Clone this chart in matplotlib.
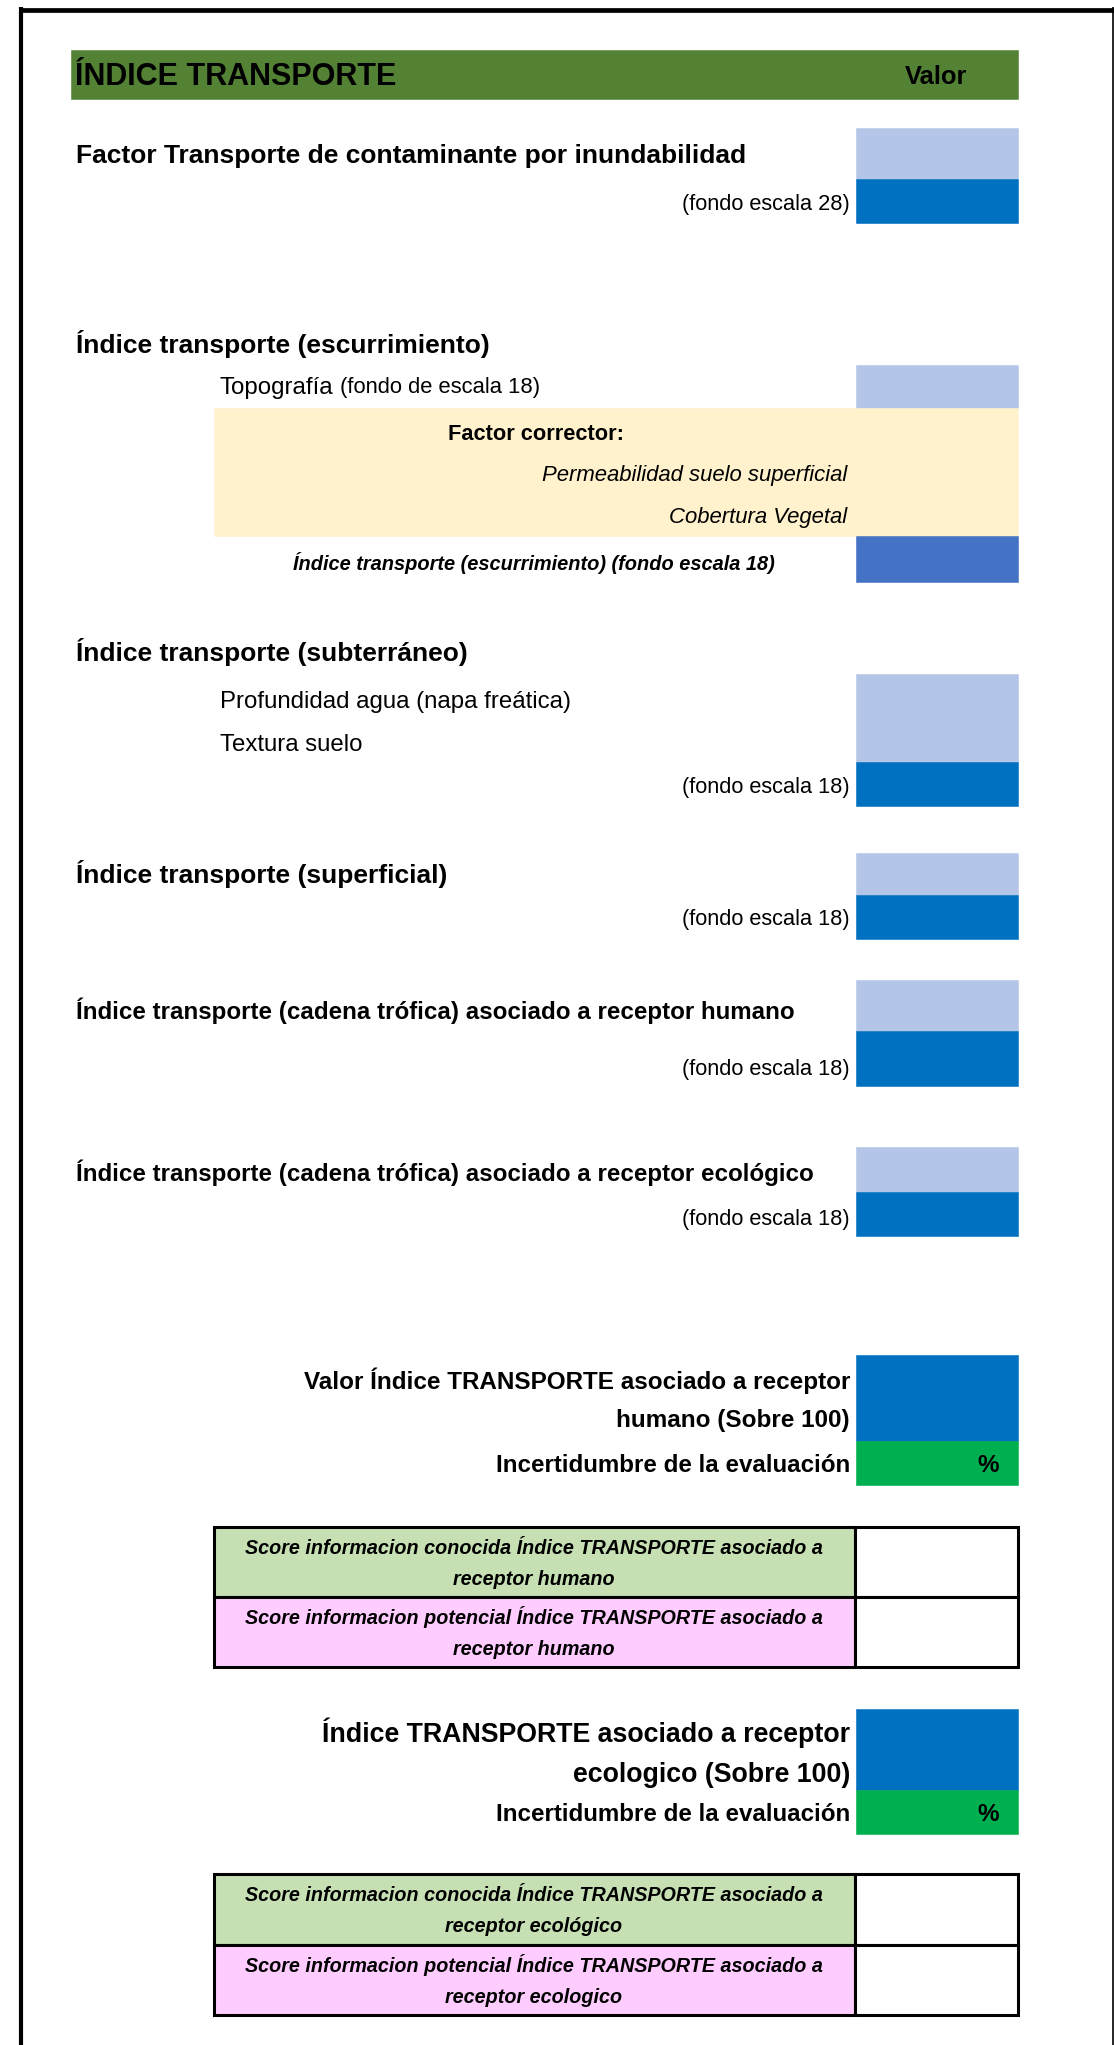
import matplotlib
matplotlib.use("Agg")
import matplotlib.pyplot as plt
from matplotlib.patches import Rectangle
from matplotlib import font_manager

# textos de la hoja
titulo = "ÍNDICE TRANSPORTE"
col_valor = "Valor"
secciones = [
    "Factor Transporte de contaminante por inundabilidad",
    "Índice transporte (escurrimiento)",
    "Índice transporte (subterráneo)",
    "Índice transporte (superficial)",
    "Índice transporte (cadena trófica) asociado a receptor humano",
    "Índice transporte (cadena trófica) asociado a receptor ecológico",
]
fondo_28 = "(fondo escala 28)"
fondo_18 = "(fondo escala 18)"
topografia = ["Topografía", "(fondo de escala 18)"]
factor_corrector = "Factor corrector:"
correctores = ["Permeabilidad suelo superficial", "Cobertura Vegetal"]
escurrimiento_total = "Índice transporte (escurrimiento) (fondo escala 18)"
subterraneo_items = ["Profundidad agua (napa freática)", "Textura suelo"]
resumen_humano = ["Valor Índice TRANSPORTE asociado a receptor", "humano (Sobre 100)"]
resumen_eco = ["Índice TRANSPORTE asociado a receptor", "ecologico (Sobre 100)"]
incertidumbre = "Incertidumbre de la evaluación"
pct = "%"
score_humano = [
    ["Score informacion conocida Índice TRANSPORTE asociado a", "receptor humano"],
    ["Score informacion potencial Índice TRANSPORTE asociado a", "receptor humano"],
]
score_eco = [
    ["Score informacion conocida Índice TRANSPORTE asociado a", "receptor ecológico"],
    ["Score informacion potencial Índice TRANSPORTE asociado a", "receptor ecologico"],
]

VERDE_OSC = "#548235"
AZUL_CLARO = "#B4C6E7"
AZUL = "#0070C0"
AZUL_MED = "#4472C4"
AMARILLO = "#FFF2CC"
VERDE = "#00B050"
VERDE_CLARO = "#C6E0B4"
ROSA = "#FFCCFF"

nombres = {f.name for f in font_manager.fontManager.ttflist}
if "Liberation Sans Narrow" in nombres:
    FUENTE, ESC = "Liberation Sans Narrow", 1.18
else:
    FUENTE, ESC = "Liberation Sans", 1.0

W, H = 1114, 2045
fig = plt.figure(figsize=(W / 100, H / 100), dpi=100)
ax = fig.add_axes([0, 0, 1, 1])
ax.set_xlim(0, W)
ax.set_ylim(H, 0)
ax.axis("off")


def txt(x, yc, s, size, ha="left", weight="normal", style="normal"):
    # yc = centro visual de las mayusculas
    size = size * ESC
    em = size * 100 / 72
    return ax.text(x, yc + 0.36 * em / ESC ** 0.3, s, fontsize=size, ha=ha, va="baseline",
                   fontweight=weight, fontstyle=style, family=FUENTE, color="black")


def caja(x0, y0, x1, y1, color, borde=None, lw=0):
    ax.add_patch(Rectangle((x0, y0), x1 - x0, y1 - y0, facecolor=color,
                           edgecolor=borde if borde else color, linewidth=lw if borde else 0.4))


# marco
ax.plot([19, W], [9.5, 9.5], color="black", lw=3.4, solid_capstyle="butt")
ax.plot([21, 21], [7, H], color="black", lw=3.0, solid_capstyle="butt")
ax.plot([1112.5, 1112.5], [7, H], color="black", lw=1.2, solid_capstyle="butt")

VX0, VX1 = 856, 1018   # columna de valores
LX = 76                # margen de etiquetas
RX = 850               # borde derecho de etiquetas

# encabezado
caja(71, 50, 1018, 99, VERDE_OSC)
txt(75, 74, titulo, 22, weight="bold")
txt(905, 75, col_valor, 18.4, weight="bold")

# 1 inundabilidad
caja(VX0, 128, VX1, 179, AZUL_CLARO)
caja(VX0, 179, VX1, 223, AZUL)
txt(LX, 153, secciones[0], 19, weight="bold")
txt(RX, 202, fondo_28, 15.7, ha="right")

# 2 escurrimiento
txt(LX, 343, secciones[1], 19, weight="bold")
caja(VX0, 365, VX1, 408, AZUL_CLARO)
t = txt(220, 385, topografia[0], 17.3)
fig.canvas.draw()
bb = t.get_window_extent().transformed(ax.transData.inverted())
txt(bb.x1 + 6, 385, topografia[1], 15.8)
caja(214, 408, 1018, 536, AMARILLO)
txt(536, 432, factor_corrector, 15.7, ha="center", weight="bold")
txt(847, 473, correctores[0], 15.9, ha="right", style="italic")
txt(847, 515, correctores[1], 15.9, ha="right", style="italic")
caja(VX0, 536, VX1, 582, AZUL_MED)
txt(534, 563, escurrimiento_total, 14.4, ha="center", weight="bold", style="italic")

# 3 subterraneo
txt(LX, 652, secciones[2], 19, weight="bold")
caja(VX0, 674, VX1, 762, AZUL_CLARO)
caja(VX0, 762, VX1, 806, AZUL)
txt(220, 699, subterraneo_items[0], 17.3)
txt(220, 742, subterraneo_items[1], 17.3)
txt(RX, 785, fondo_18, 15.7, ha="right")

# 4 superficial
txt(LX, 874, secciones[3], 19, weight="bold")
caja(VX0, 853, VX1, 895, AZUL_CLARO)
caja(VX0, 895, VX1, 939, AZUL)
txt(RX, 917, fondo_18, 15.7, ha="right")

# 5 cadena trofica humano
txt(LX, 1010, secciones[4], 17.4, weight="bold")
caja(VX0, 980, VX1, 1031, AZUL_CLARO)
caja(VX0, 1031, VX1, 1086, AZUL)
txt(RX, 1067, fondo_18, 15.7, ha="right")

# 6 cadena trofica ecologico
txt(LX, 1172, secciones[5], 17.4, weight="bold")
caja(VX0, 1147, VX1, 1192, AZUL_CLARO)
caja(VX0, 1192, VX1, 1236, AZUL)
txt(RX, 1217, fondo_18, 15.7, ha="right")


def resumen(lineas, size, y0, y_lineas, y_inc):
    caja(VX0, y0, VX1, y_inc - 22, AZUL)
    caja(VX0, y_inc - 22, VX1, y_inc + 22, VERDE)
    for s, yy in zip(lineas, y_lineas):
        txt(RX, yy, s, size, ha="right", weight="bold")
    txt(RX, y_inc, incertidumbre, 17.4, ha="right", weight="bold")
    txt(988, y_inc, pct, 17.4, ha="center", weight="bold")


def tabla(filas, y0, y1):
    ym = (y0 + y1) / 2
    for (ya, yb), color, lineas in zip([(y0, ym), (ym, y1)], [VERDE_CLARO, ROSA], filas):
        caja(214, ya, 855, yb, color, borde="black", lw=2.2)
        caja(855, ya, 1018, yb, "white", borde="black", lw=2.2)
        c = (ya + yb) / 2
        txt(534, c - 15, lineas[0], 14.2, ha="center", weight="bold", style="italic")
        txt(534, c + 16, lineas[1], 14.2, ha="center", weight="bold", style="italic")


resumen(resumen_humano, 17.5, 1355, [1380, 1418], 1463)
tabla(score_humano, 1527, 1667)
resumen(resumen_eco, 19.3, 1709, [1732, 1772], 1812)
tabla(score_eco, 1874, 2015)

fig.savefig("out.png", dpi=100)
